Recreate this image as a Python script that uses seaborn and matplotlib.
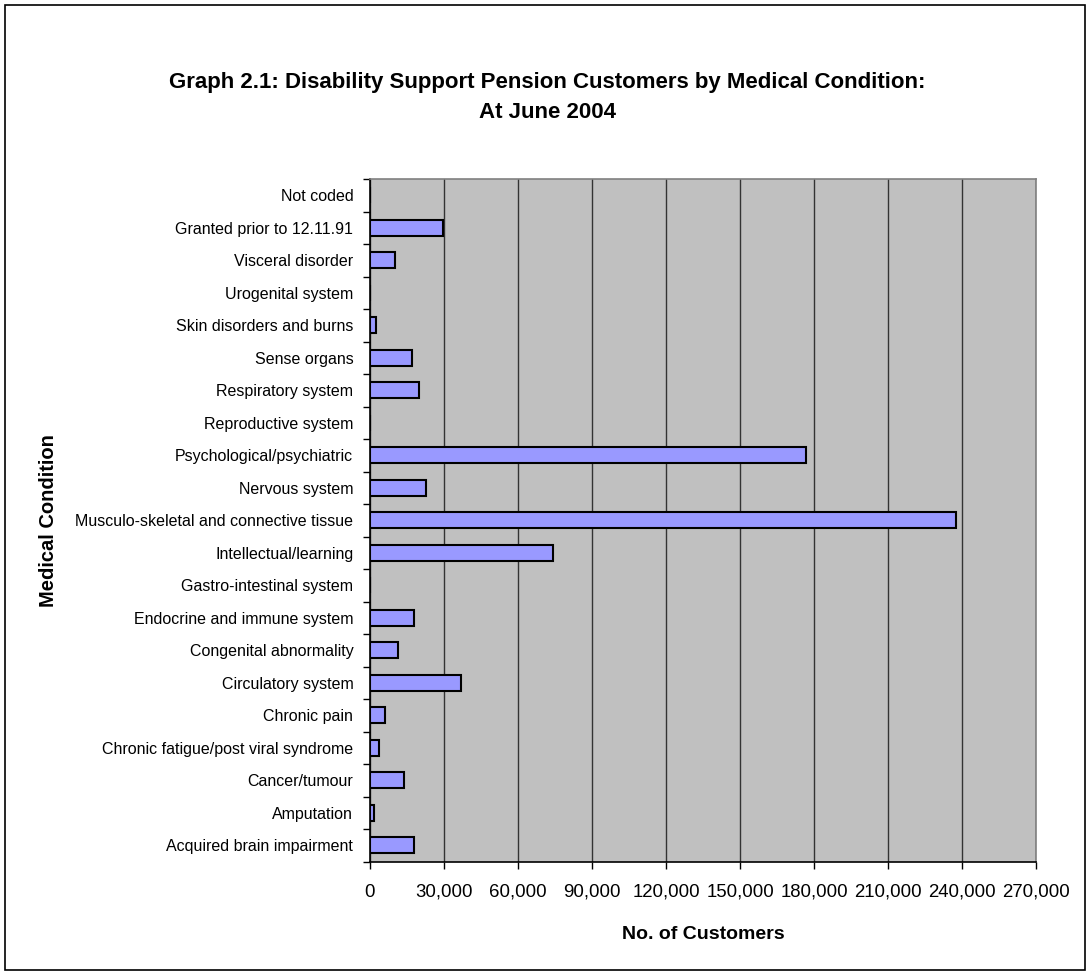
import matplotlib
matplotlib.use("Agg")
import matplotlib.pyplot as plt
from matplotlib.patches import Rectangle
from matplotlib.ticker import FuncFormatter, FixedLocator
import seaborn as sns
import pandas as pd

# Medical conditions, listed top to bottom as in the chart
conditions = [
    "Not coded",
    "Granted prior to 12.11.91",
    "Visceral disorder",
    "Urogenital system",
    "Skin disorders and burns",
    "Sense organs",
    "Respiratory system",
    "Reproductive system",
    "Psychological/psychiatric",
    "Nervous system",
    "Musculo-skeletal and connective tissue",
    "Intellectual/learning",
    "Gastro-intestinal system",
    "Endocrine and immune system",
    "Congenital abnormality",
    "Circulatory system",
    "Chronic pain",
    "Chronic fatigue/post viral syndrome",
    "Cancer/tumour",
    "Amputation",
    "Acquired brain impairment",
]
customers = [
    0, 29600, 10000, 0, 2300, 17000, 20000, 0, 176500, 22700,
    237200, 74200, 0, 17800, 11500, 36700, 5900, 3800, 13800, 1500, 17800,
]
x_ticks = list(range(0, 270001, 30000))

df = pd.DataFrame({"Medical Condition": conditions, "No. of Customers": customers})

sns.set_style("white")
plt.rcParams["font.family"] = ["Liberation Sans", "DejaVu Sans"]
plt.rcParams["text.color"] = "black"
plt.rcParams["axes.labelcolor"] = "black"
plt.rcParams["xtick.color"] = "black"
plt.rcParams["ytick.color"] = "black"

fig = plt.figure(figsize=(10.9, 9.75), dpi=100)
ax = fig.add_axes([0.3394, 0.1164, 0.6115, 0.7000])
ax.set_facecolor("#C0C0C0")

sns.barplot(data=df, x="No. of Customers", y="Medical Condition", ax=ax,
            color="#9999FF", edgecolor="black", linewidth=1.5,
            width=0.5, saturation=1, zorder=3)

ax.set_xlim(0, 270000)
ax.set_ylim(len(conditions) - 0.5, -0.5)
ax.xaxis.set_major_locator(FixedLocator(x_ticks))
ax.xaxis.set_major_formatter(FuncFormatter(lambda v, p: f"{int(v):,}"))
ax.grid(axis="x", color="#333333", linewidth=1, zorder=0)
ax.set_axisbelow(True)

# category boundary ticks on the y axis, like the original
ax.yaxis.set_minor_locator(FixedLocator([i - 0.5 for i in range(len(conditions) + 1)]))
ax.tick_params(axis="y", which="major", length=0, labelsize=11.5, pad=12)
ax.tick_params(axis="y", which="minor", length=5, width=1, color="black", direction="out", left=True)
ax.tick_params(axis="x", which="major", length=5, width=1, color="black", direction="out",
               bottom=True, labelsize=13.4, pad=11)

for s in ["left", "bottom"]:
    ax.spines[s].set_color("black")
    ax.spines[s].set_linewidth(1.2)
for s in ["top", "right"]:
    ax.spines[s].set_color("#808080")
    ax.spines[s].set_linewidth(1.2)

ax.set_xlabel("No. of Customers", fontsize=14, fontweight="bold", labelpad=18)
ax.set_ylabel("Medical Condition", fontsize=14.5, fontweight="bold")
ax.yaxis.set_label_coords(-0.468, 0.5)

fig.text(0.502, 0.9, "Graph 2.1: Disability Support Pension Customers by Medical Condition:\nAt June 2004",
         ha="center", va="center", fontsize=16, fontweight="bold", linespacing=1.6)

fig.patches.append(Rectangle((5 / 1090, 5 / 975), 1080 / 1090, 965 / 975, transform=fig.transFigure,
                             fill=False, edgecolor="black", linewidth=1.2))

fig.savefig("out.png", dpi=100)
